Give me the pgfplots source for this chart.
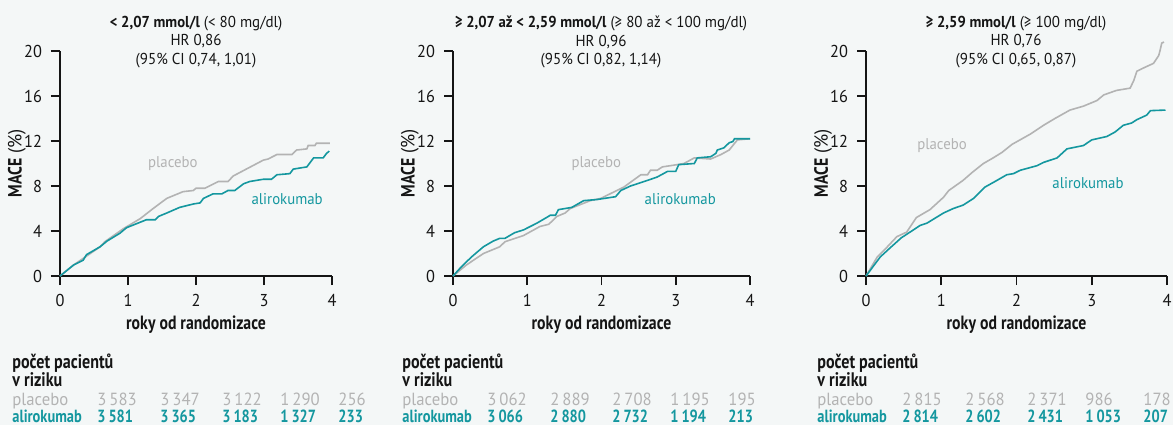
\documentclass[border=0pt]{standalone}
\usepackage{pgfplots}
\pgfplotsset{compat=1.18}
\usepackage{fontspec}
\setmainfont{PT Sans}[FakeStretch=0.95, BoldFeatures={FakeStretch=0.82}]
\newfontfamily\ttl{PT Sans}[FakeStretch=0.95, BoldFeatures={FakeStretch=0.93}]
\definecolor{bg}{HTML}{F4F7F7}
\definecolor{teal}{HTML}{14979F}
\definecolor{grey}{HTML}{B3B3B3}
\definecolor{ink}{HTML}{151515}

% placebo / alirokumab curves (years, MACE %)
\pgfplotstableread{
x y
0 0
0.2 0.98
0.59 2.6
0.66 3.05
0.93 4.2
1.18 5.1
1.37 6.0
1.57 6.9
1.81 7.5
1.96 7.6
2.0 7.8
2.13 7.8
2.33 8.4
2.47 8.4
2.55 8.9
2.99 10.3
3.06 10.4
3.19 10.8
3.41 10.8
3.48 11.2
3.63 11.3
3.65 11.6
3.75 11.6
3.77 11.8
3.97 11.8
}\plA
\pgfplotstableread{
x y
0 0
0.2 0.98
0.34 1.4
0.39 1.9
0.59 2.6
0.69 3.1
0.88 3.8
0.98 4.3
1.27 5.0
1.40 5.0
1.45 5.3
1.57 5.6
1.76 6.1
1.96 6.4
2.06 6.5
2.11 6.9
2.25 7.3
2.38 7.3
2.47 7.6
2.57 7.6
2.70 8.2
2.79 8.4
2.99 8.6
3.11 8.6
3.19 9.0
3.38 9.1
3.43 9.5
3.53 9.6
3.63 9.7
3.73 10.5
3.87 10.5
3.92 10.9
3.96 11.1
}\alA
\pgfplotstableread{
x y
0 0
0.18 0.98
0.41 2.0
0.63 2.6
0.70 3.05
0.95 3.6
1.17 4.4
1.29 4.6
1.40 5.3
1.51 5.6
1.58 6.0
1.85 6.7
1.99 6.9
2.30 7.9
2.53 9.0
2.62 9.0
2.66 9.4
2.75 9.4
2.82 9.7
3.02 9.9
3.11 10.0
3.25 10.5
3.47 10.4
3.61 10.8
3.72 11.2
3.83 12.1
4.0 12.2
}\plB
\pgfplotstableread{
x y
0 0
0.11 0.8
0.25 1.7
0.41 2.6
0.54 3.1
0.63 3.35
0.70 3.35
0.83 3.85
0.95 4.1
1.04 4.4
1.13 4.7
1.26 5.2
1.31 5.4
1.38 5.4
1.42 5.9
1.60 6.1
1.76 6.7
1.94 6.8
2.19 7.05
2.26 7.6
2.39 8.0
2.62 8.5
2.75 8.8
2.89 9.3
3.0 9.3
3.04 9.9
3.25 10.0
3.29 10.5
3.47 10.6
3.54 10.9
3.56 11.2
3.65 11.4
3.72 11.85
3.77 11.95
3.79 12.2
4.0 12.2
}\alB
\pgfplotstableread{
x y
0 0
0.15 1.7
0.27 2.5
0.41 3.5
0.54 3.9
0.67 5.2
0.85 5.9
1.03 7.0
1.10 7.6
1.29 8.5
1.41 9.2
1.56 10.0
1.69 10.5
1.81 11.0
1.94 11.7
2.18 12.6
2.36 13.4
2.51 14.0
2.71 14.75
2.89 15.1
3.07 15.6
3.16 16.1
3.33 16.5
3.51 16.7
3.56 17.4
3.60 18.2
3.69 18.5
3.82 18.9
3.89 19.6
3.91 20.1
3.93 20.7
3.96 20.8
}\plC
\pgfplotstableread{
x y
0 0
0.19 1.7
0.32 2.5
0.47 3.4
0.63 4.1
0.72 4.5
0.81 4.7
1.03 5.6
1.16 6.0
1.29 6.3
1.43 6.9
1.58 7.9
1.74 8.5
1.87 9.0
1.96 9.1
2.05 9.4
2.27 9.8
2.36 10.1
2.54 10.5
2.67 11.3
2.89 11.6
3.0 12.1
3.20 12.4
3.31 12.8
3.42 13.4
3.53 13.6
3.60 13.9
3.73 14.3
3.78 14.7
3.98 14.75
}\alC

\pgfplotsset{
  km/.style={
    scale only axis, height=112.5pt,
    xmin=0, xmax=4, ymin=0, ymax=20,
    axis lines*=left, clip=false,
    xtick={0,1,2,3,4}, ytick={0,4,8,12,16,20},
    tick align=outside, major tick length=4.5pt,
    every tick/.style={ink, line width=0.8pt},
    axis line style={ink, line width=0.8pt},
    tick label style={font=\fontsize{8.6}{9}\selectfont, text=ink},
    /pgf/number format/assume math mode=true,
    xticklabel style={yshift=-1pt},
    yticklabel style={xshift=-1pt},
    xlabel={\textbf{roky od randomizace}},
    ylabel={\textbf{MACE} (\%)},
    label style={font=\fontsize{9.6}{10}\selectfont, text=ink},
    xlabel style={at={(axis description cs:0.5,0)}, anchor=center, yshift=-24.5pt},
    ylabel style={at={(axis description cs:0,0.5)}, anchor=center, yshift=21.5pt},
  },
  pl/.style={grey, line width=0.8pt, no marks},
  al/.style={teal, line width=0.8pt, no marks},
}

\newcommand\tf{\ttl\fontsize{7.9}{9.3}\selectfont}
\newcommand\rf{\fontsize{8.8}{9}\selectfont}
\newcommand\cf{\fontsize{7.8}{9}\selectfont}

\begin{document}
\begin{tikzpicture}[x=0.5pt, y=-0.5pt]
\fill[bg] (0,0) rectangle (1173,425);
\useasboundingbox (0,0) rectangle (1173,425);

\begin{axis}[km, at={(30pt,-138pt)}, anchor=south west, width=136pt]
\addplot[pl] table {\plA};
\addplot[al] table {\alA};
\node[grey, font=\cf] at (axis cs:1.66,10.0) {placebo};
\node[teal, font=\cf] at (axis cs:3.34,6.85) {alirokumab};
\end{axis}

\begin{axis}[km, at={(226.5pt,-138pt)}, anchor=south west, width=148.5pt]
\addplot[pl] table {\plB};
\addplot[al] table {\alB};
\node[grey, font=\cf] at (axis cs:1.93,10.0) {placebo};
\node[teal, font=\cf] at (axis cs:3.06,6.85) {alirokumab};
\end{axis}

\begin{axis}[km, at={(433pt,-138pt)}, anchor=south west, width=150.5pt]
\addplot[pl] table {\plC};
\addplot[al] table {\alC};
\node[grey, font=\cf] at (axis cs:1.01,11.6) {placebo};
\node[teal, font=\cf] at (axis cs:2.95,8.3) {alirokumab};
\end{axis}

% titles
\node[align=center, text=ink, font=\tf] at (196,42)
  {\textbf{< 2,07 mmol/l} (< 80 mg/dl)\\HR 0,86\\(95\% CI 0,74, 1,01)};
\node[align=center, text=ink, font=\tf] at (601,42)
  {\textbf{≥ 2,07 až < 2,59 mmol/l} (≥ 80 až < 100 mg/dl)\\HR 0,96\\(95\% CI 0,82, 1,14)};
\node[align=center, text=ink, font=\tf] at (1016,42)
  {\textbf{≥ 2,59 mmol/l} (≥ 100 mg/dl)\\HR 0,76\\(95\% CI 0,65, 0,87)};

% numbers at risk
\foreach \ox/\pa/\pb/\pc/\pd/\pe/\aa/\ab/\ac/\ad/\ae in {
  12/3\,583/3\,347/3\,122/1\,290/256/3\,581/3\,365/3\,183/1\,327/233,
  402/3\,062/2\,889/2\,708/1\,195/195/3\,066/2\,880/2\,732/1\,194/213,
  817/2\,815/2\,568/2\,371/986/178/2\,814/2\,602/2\,431/1\,053/207}{
  \node[anchor=base west, inner sep=0pt, text=ink, font=\fontsize{9.8}{10}\selectfont\bfseries] at (\ox,368) {počet pacientů};
  \node[anchor=base west, inner sep=0pt, text=ink, font=\fontsize{9.8}{10}\selectfont\bfseries] at (\ox,386) {v riziku};
  \node[anchor=base west, inner sep=0pt, text=grey, font=\rf] at (\ox,405) {placebo};
  \node[anchor=base west, inner sep=0pt, text=teal, font=\rf\bfseries] at (\ox,422) {alirokumab};
  \foreach \dx/\p/\a in {85/\pa/\aa, 148/\pb/\ab, 210/\pc/\ac, 268/\pd/\ad, 326/\pe/\ae}{
    \node[anchor=base west, inner sep=0pt, text=grey, font=\rf] at (\ox+\dx,405) {\p};
    \node[anchor=base west, inner sep=0pt, text=teal, font=\rf\bfseries] at (\ox+\dx,422) {\a};
  }
}
\end{tikzpicture}
\end{document}
